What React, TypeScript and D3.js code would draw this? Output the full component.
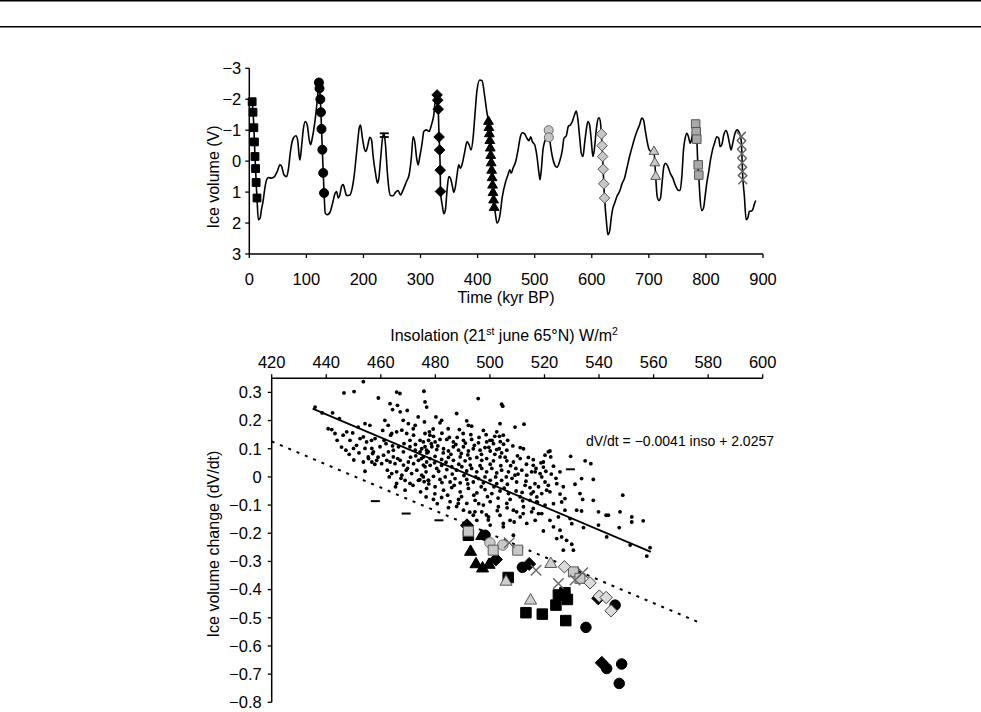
import React from 'react';
import * as d3 from 'd3';

type P = [number, number];

// ---------------- Top panel: ice volume record (time kyr BP, V) ----------------
const iceRecord: P[] = [
  [3, -1.95], [5, -1.92], [6.5, -1.58], [8, -1.08], [9, -0.62], [10, -0.15], [11, 0.24], [12, 0.69], [13.5, 1.19],
  [15.8, 1.89], [19, 1.84], [21, 1.6], [24.5, 1.25], [27, 0.9], [30.4, 0.6], [33.3, 0.53], [39, 0.55], [43, 0.52],
  [49, 0.33], [53.7, 0.12], [56.6, 0.17], [60.7, 0.44], [65.4, 0.5], [68.3, 0.28], [72.4, -0.36], [77, -0.74],
  [81.7, -0.82], [84.6, -0.69], [87.5, -0.15], [88.7, -0.04], [91.6, -0.47], [94.5, -1.01], [98, -1.28],
  [101.5, -1.17], [105, -0.69], [107.4, -0.53], [110.3, -0.74], [113.8, -1.12], [116.7, -1.55], [119.6, -2.08],
  [122, -2.54], [123, -2.35], [124.5, -2.0], [125.5, -1.58], [126.5, -1.04], [128, -0.37], [129.5, 0.38], [131, 1.03],
  [133, 1.68], [136.5, 1.73], [141.2, 1.66], [145.9, 1.36], [150, 1.05], [152.9, 0.98], [155.8, 1.19], [158.7, 1.09],
  [161.6, 0.82], [164.5, 0.76], [167.4, 0.93], [170.4, 1.11], [176.2, 1.09], [180.3, 0.87], [183.2, 0.55],
  [186.7, -0.04], [190.2, -0.69], [192.5, -1.06], [194.9, -1.17], [197.8, -0.79], [201.3, -0.42], [204.2, -0.31],
  [207.1, -0.47], [211.2, -0.77], [214.1, -0.69], [217, -0.15], [221.1, 0.39], [224.6, 0.71], [227, 0.55],
  [230.4, -0.15], [233.4, -0.74], [235.7, -0.9], [238.6, -0.53], [241.5, 0.28], [244.4, 0.87], [247.4, 1.11],
  [252, 1.12], [256.1, 1.01], [260.8, 0.95], [264.8, 1.09], [269.5, 0.93], [275.3, 0.66], [280, 0.44],
  [284.1, -0.15], [287, -0.79], [289.9, -0.63], [292.8, -0.15], [295.8, 0.12], [298.7, -0.15], [302.8, -0.58],
  [305.7, -0.96], [310.4, -1.01], [315, -0.96], [319.1, -1.17], [323.2, -1.49], [326.7, -2.08], [329, -2.14],
  [330, -1.97], [331, -1.68], [332.5, -0.78], [333.5, -0.36], [334.5, 0.29], [335, 0.98], [338.4, 1.46],
  [340.7, 1.7], [343.6, 1.57], [346.5, 0.93], [349.5, 0.5], [352.4, 0.55], [355.3, 0.76], [358.2, 1.01],
  [361.1, 0.82], [364, 0.44], [366.9, 0.12], [369.9, 0.23], [373.3, 0.07], [377.5, -0.31], [381.5, -0.63],
  [385, -0.53], [388.5, -0.36], [392, -0.74], [395.5, -1.55], [399, -2.3], [403.7, -2.62], [407.8, -2.6],
  [412.4, -2.1], [416.5, -1.55], [419, -1.28], [424, 0.06], [429, 1.5], [430.5, 1.62], [434, 2.0], [438.7, 1.79],
  [443.4, 1.14], [449.2, 0.66], [453.3, 0.44], [456.2, 0.28], [459.1, 0.39], [462, 0.23], [466.7, 0.01],
  [470.8, -0.36], [474.9, -0.79], [478.4, -0.92], [482.5, -0.88], [486.5, -0.74], [490, -0.66], [493, -0.79],
  [495.9, -0.63], [500, -0.53], [504, -0.15], [507.5, 0.39], [509.3, 0.6], [511.6, 0.28], [514.5, -0.36],
  [517.5, -0.63], [520.4, -0.74], [523.3, -0.96], [526.2, -0.74], [528, -0.47], [530.9, -0.15], [535, 0.12],
  [539, 0.2], [543.7, 0.01], [548.4, -0.36], [551.3, -0.74], [555.4, -0.82], [558.9, -1.12], [562.4, -1.17],
  [565.9, -1.28], [568.8, -1.44], [572.9, -1.62], [575.8, -1.33], [578.7, -0.79], [581.6, -0.26], [584.5, -0.15],
  [587.5, -0.58], [590.4, -1.01], [593.3, -1.28], [596.2, -1.17], [599.1, -0.69], [602, -0.15], [604.4, -0.36],
  [607.9, -1.01], [611.4, -1.39], [613.7, -1.39], [616.6, -0.96], [618, -0.5], [619, -0.15], [620, 0.26],
  [621, 0.73], [622.4, 1.19], [625.4, 1.89], [628.3, 2.38], [631.2, 2.27], [634.1, 1.84], [637, 1.52], [640, 1.36],
  [644, 1.14], [648.7, 0.98], [653.4, 0.71], [657.4, 0.55], [661.5, 0.23], [666.2, -0.15], [670.9, -0.47],
  [675, -0.74], [679, -0.96], [683.7, -1.17], [687.8, -1.39], [690.7, -1.33], [693.6, -1.01], [697.1, -0.63],
  [700, -0.4], [703, -0.32], [709, -0.31], [710.5, 0.06], [712, 0.5], [714.6, 1.14], [717.5, 1.27], [720.4, 1.19],
  [723.4, 0.66], [726.3, 0.17], [729.2, 0.07], [733.3, 0.17], [737.4, 0.39], [742, 0.55], [746.1, 0.76],
  [750.8, 0.93], [754.8, 0.95], [757.8, 0.5], [760.7, -0.36], [763.6, -0.74], [766.5, -0.9], [769.4, -0.79],
  [772.4, -0.58], [775.3, -0.74], [778.8, -1.17], [782, -1.2], [783, -0.95], [784, -0.71], [785.8, 0.07],
  [787.5, 0.5], [789.9, 1.25], [792.8, 1.59], [795.7, 1.52], [798.6, 1.14], [801.5, 0.71], [805, 0.33],
  [808, -0.04], [810.9, -0.31], [815, -0.58], [819, -0.79], [822.5, -0.74], [824.8, -0.47], [827.8, -0.53],
  [831.3, -0.85], [835.4, -0.99], [838.3, -0.85], [841.2, -0.58], [844.1, -0.36], [847, -0.58], [851, -0.9],
  [854.6, -1.01], [857.5, -0.96], [860.4, -0.8], [862, -0.63], [864.5, 0.5], [867.4, 1.14], [870.4, 1.89],
  [873.3, 1.84], [876.2, 1.62], [879.1, 1.62], [882, 1.57], [885, 1.38], [887.3, 1.27],
];

// Top panel marker series (time, V)
const topBlackSquares: P[] = [[5, -1.92], [6.5, -1.58], [8, -1.08], [9, -0.62], [10, -0.15], [11, 0.24], [12, 0.69], [13.5, 1.19]];
const topBlackCircles: P[] = [[122, -2.54], [123, -2.35], [124.5, -2.0], [125.5, -1.58], [126.5, -1.04], [128, -0.37], [129.5, 0.38], [131, 1.03]];
const topDashes: P[] = [[236.5, -0.9], [236.5, -0.78]];
const topBlackDiamonds: P[] = [[329, -2.14], [330, -1.97], [331, -1.68], [332.5, -0.78], [333.5, -0.36], [334.5, 0.29], [335, 0.98]];
const topBlackTriangles: P[] = [
  [419, -1.28], [419.8, -1.08], [420.6, -0.88], [421.4, -0.66], [422.2, -0.42], [423, -0.18], [423.8, 0.06],
  [424.6, 0.3], [425.4, 0.54], [426.2, 0.78], [427, 1.02], [428, 1.26], [429, 1.5],
];
const topGreyCircles: P[] = [[524.5, -1.0], [524.8, -0.77]];
const topGreyDiamonds: P[] = [[617, -0.88], [618, -0.5], [619, -0.15], [620, 0.26], [621, 0.73], [622.4, 1.19]];
const topGreyTriangles: P[] = [[709, -0.31], [710.5, 0.06], [712, 0.5]];
const topGreySquares: P[] = [[782, -1.2], [783, -0.95], [784, -0.71], [786.5, 0.12], [787.5, 0.45]];
const topGreyCrosses: P[] = [[862, -0.8], [862.5, -0.52], [863, -0.24], [863.5, 0.05], [864, 0.33], [864.5, 0.6]];

// ---------------- Bottom panel (insolation W/m2, dV/dt) ----------------
const scatterDots: P[] = [
  [435.9, 0.248], [438.5, 0.227], [442.3, 0.227], [444.8, 0.207], [446.5, 0.298], [450.2, 0.303], [453.6, 0.338],
  [459.1, 0.28], [440.7, 0.171], [442, 0.168], [443.2, 0.154], [444, 0.13], [446.2, 0.148], [447.5, 0.16],
  [449.7, 0.156], [451.7, 0.177], [454.2, 0.189], [456, 0.183], [445.6, 0.106], [447.2, 0.095], [448.4, 0.08],
  [451.1, 0.112], [453.6, 0.142], [454.8, 0.124], [456.6, 0.13], [457, 0.083], [455.4, 0.071], [461.5, 0.201],
  [463.4, 0.26], [464.3, 0.239], [465.8, 0.301], [467, 0.296], [460.7, 0.165], [462.7, 0.183], [463.6, 0.148],
  [461.9, 0.118], [464.6, 0.095], [468.2, 0.201], [469.7, 0.236], [471.9, 0.171], [473.7, 0.213], [475.8, 0.304],
  [476.8, 0.248], [478, 0.148], [480.2, 0.213], [482.3, 0.201], [484.7, 0.171], [487.8, 0.225], [490.2, 0.154],
  [492.1, 0.183], [495.7, 0.278], [497.6, 0.165], [500, 0.13],
  [450, 0.101], [454.2, 0.101], [456.7, 0.101], [457.3, 0.089], [459.7, 0.107], [461, 0.077], [462.8, 0.089],
  [464.6, 0.071], [466.5, 0.107], [468.3, 0.089], [470.7, 0.107], [472.6, 0.095], [474.4, 0.089], [476.2, 0.107],
  [477.4, 0.089], [453.6, 0.053], [455.5, 0.065], [456.7, 0.053], [458.5, 0.059], [460.3, 0.047], [462.2, 0.059],
  [463.4, 0.053], [465.2, 0.047], [467.1, 0.059], [468.3, 0.042], [470.1, 0.053], [472, 0.047], [473.8, 0.059],
  [475.6, 0.042], [476.8, 0.053], [462.4, 0.024], [464, 0.012], [465.8, 0.018], [467.7, 0.006], [469.3, 0.024],
  [471.3, 0.012], [473.2, 0.024], [475, 0.006], [476.6, 0.018], [465.8, -0.023], [468.9, -0.012], [470.7, -0.023],
  [473.8, -0.012], [475.9, -0.017], [477.4, -0.012], [468.9, -0.047], [474.6, -0.053], [476.6, -0.071],
  [466.1, 0.254], [467.1, 0.231], [470.1, 0.189], [472.6, 0.183], [464, 0.154], [465.8, 0.16], [467.7, 0.166],
  [469.5, 0.154], [472, 0.148], [474.4, 0.13], [476.2, 0.154], [470.7, 0.13], [476.2, 0.266], [452.4, 0.136],
  [457.9, 0.136], [448.7, 0.13],
  [504.3, 0.258], [504.7, 0.251], [491.5, 0.199], [493.3, 0.18], [503.7, 0.189], [509.2, 0.177], [512.5, 0.187],
  [477.8, 0.16], [479.3, 0.144], [488.8, 0.168], [502.5, 0.16], [503.5, 0.144], [481.7, 0.192],
  [475.6, 0.124], [477.5, 0.13], [479.9, 0.124], [481.7, 0.133], [484.2, 0.133], [486.6, 0.124], [490.3, 0.13],
  [493.3, 0.133], [495.8, 0.121], [498.8, 0.124], [501.3, 0.118], [505, 0.116], [511.1, 0.104], [512.3, 0.1],
  [521.4, 0.089], [475, 0.1], [476.8, 0.095], [478.7, 0.107], [480.5, 0.097], [483, 0.1], [484.8, 0.092],
  [486.6, 0.107], [488.5, 0.095], [490.3, 0.107], [492.1, 0.092], [493.9, 0.1], [496.4, 0.095], [498.2, 0.104],
  [500.1, 0.092], [502.5, 0.097], [504.3, 0.085], [506.2, 0.095], [475.6, 0.071], [478.1, 0.065], [479.9, 0.073],
  [482.3, 0.062], [484.8, 0.069], [486.6, 0.059], [489.1, 0.071], [490.9, 0.057], [492.7, 0.065], [495.2, 0.069],
  [497, 0.059], [498.8, 0.065], [501.3, 0.057], [503.7, 0.071], [506.2, 0.057], [508.6, 0.053], [511.1, 0.065],
  [514.1, 0.069], [515.9, 0.041], [519.6, 0.053], [476.2, 0.036], [478.1, 0.041], [480.5, 0.03], [482.3, 0.041],
  [484.2, 0.026], [486, 0.036], [487.8, 0.024], [489.7, 0.036], [491.5, 0.021], [493.3, 0.03], [495.2, 0.018],
  [497, 0.03], [498.8, 0.018], [500.7, 0.03], [502.5, 0.014], [504.3, 0.024], [506.8, 0.018], [509.2, 0.006],
  [511.7, 0.024], [513.5, 0.006], [516.6, 0.018], [519, 0], [475.6, 0.0], [477.5, -0.012], [479.3, 0.002],
  [481.7, -0.009], [483.6, 0.0], [485.4, -0.018], [487.2, -0.006], [489.1, -0.021], [491.5, -0.009], [493.9, -0.018],
  [495.8, -0.006], [497.6, -0.021], [500.1, -0.012], [502.5, -0.024], [504.3, -0.012], [506.4, -0.026],
  [509.8, -0.018], [512.9, -0.03], [514.7, -0.038], [517.8, -0.035], [520.8, -0.047], [476.8, -0.041],
  [479.9, -0.035], [483, -0.047], [486, -0.038], [489.1, -0.053], [492.1, -0.041], [495.2, -0.057], [498.2, -0.045],
  [500.7, -0.059], [503.7, -0.05], [506.8, -0.059], [511.1, -0.071], [514.7, -0.083], [517.2, -0.071],
  [479.3, -0.08], [482.3, -0.073], [485.4, -0.088], [488.5, -0.08], [491.5, -0.094], [494.6, -0.083], [497.6, -0.1],
  [500.1, -0.088], [503.1, -0.106], [506.2, -0.094], [508.6, -0.118], [512.3, -0.106], [515.9, -0.112], [519, -0.13],
  [484.8, -0.109], [490.3, -0.118], [493.9, -0.136], [497, -0.124], [499.5, -0.142], [503.7, -0.136],
  [507.4, -0.154], [511.1, -0.142], [513.5, -0.165], [516.6, -0.154], [495.2, -0.154], [500.1, -0.171],
  [504.9, -0.177],
  [504.9, 0.148], [501.8, 0.144], [509.8, -0.124], [494.5, -0.124], [488.4, -0.094],
  [520.2, 0.077], [522.0, 0.092], [522.3, 0.071], [529.6, 0.073], [534.9, 0.057], [537, 0.047], [515.9, 0.061],
  [519.6, 0.035], [523.3, 0.038], [525.7, 0.018], [515.3, 0.018], [518.4, 0.012], [516.5, -0.024],
  [520.2, -0.018], [521.4, -0.03], [524.5, -0.024], [526.9, -0.035], [531.2, -0.026], [533.6, -0.006],
  [537.9, -0.009], [515.9, -0.053], [519, -0.059], [522, -0.053], [525.7, -0.061], [527.5, -0.077], [533, -0.059],
  [534, -0.08], [537.9, -0.083], [548.7, -0.065], [517.1, -0.089], [520.2, -0.1], [523.3, -0.095], [526.3, -0.089],
  [527.5, -0.118], [531.8, -0.118], [533.6, -0.121], [539.8, -0.124], [542.6, -0.136], [543.4, -0.136],
  [547.7, -0.124], [515.3, -0.124], [517.8, -0.13], [522, -0.154], [525.1, -0.142], [529.4, -0.148], [530, -0.166],
  [534.3, -0.18], [539.8, -0.171], [547.4, -0.18], [552, -0.142], [552, -0.16], [556.2, -0.156], [519.6, -0.192],
  [523.3, -0.177], [525.7, -0.189], [526.3, -0.213], [524.5, -0.219], [528.1, -0.225], [530, -0.239],
  [530.6, -0.26], [526.9, -0.26], [542.8, -0.213], [551.4, -0.242], [558.7, -0.251], [557.5, -0.281],
  [504.9, -0.165], [499.4, -0.153], [508.6, -0.207], [512.2, -0.13],
  [478.5, 0.118], [480.9, 0.11], [482.9, 0.085], [485.7, 0.08], [487.5, 0.115], [489.5, 0.083], [491.9, 0.078],
  [494.3, 0.112], [496.9, 0.08], [499.6, 0.105], [501.8, 0.08], [503.4, 0.1], [505.6, 0.07], [507.6, 0.04],
  [509.5, 0.03], [476.9, 0.085], [479.7, 0.05], [481.2, 0.02], [483.9, 0.052], [486.2, 0.01], [488.6, 0.045],
  [490.5, 0.005], [492.8, 0.042], [494.8, 0.0], [496.4, 0.04], [498.2, 0.0], [500.1, 0.045], [502.1, 0.0],
  [504.0, 0.04], [506.0, 0.0], [508.1, -0.005], [510.3, 0.01], [477.6, -0.025], [479.8, -0.06], [482.4, -0.02],
  [484.5, -0.065], [486.9, -0.03], [489.6, -0.07], [491.9, -0.025], [494.1, -0.065], [496.8, -0.035],
  [499.1, -0.07], [501.5, -0.035], [503.0, -0.075], [505.2, -0.04], [507.4, -0.08], [509.6, -0.05],
  [511.8, -0.055], [513.2, -0.015], [515.1, -0.06], [517.4, -0.09], [480.7, -0.095], [487.8, -0.105],
  [492.6, -0.125], [495.9, -0.095], [498.7, -0.135], [502.7, -0.12], [506.3, -0.11], [508.9, -0.16], [512.0, -0.085],
  [468.5, 0.118], [470.9, 0.07], [472.7, 0.115], [474.9, 0.065], [466.2, 0.065], [469.8, 0.03], [472.8, 0.075],
  [464.3, 0.11], [461.2, 0.13], [459.0, 0.07], [457.8, 0.045], [454.2, 0.02], [452.0, 0.085], [450.1, 0.06],
  [467.4, -0.005], [471.8, -0.03], [474.3, -0.01], [463.1, 0.0], [465.4, -0.035], [476.0, 0.195], [479.2, 0.17],
  [482.4, 0.155], [485.1, 0.14], [488.0, 0.14], [491.0, 0.12], [493.0, 0.15], [496.0, 0.14], [498.6, 0.15],
  [500.8, 0.13], [503.8, 0.125], [506.5, 0.13], [508.4, 0.11], [510.1, 0.075], [513.4, 0.045], [516.9, 0.03],
  [518.7, 0.05], [520.5, 0.02], [522.5, 0.01], [524.2, -0.005],
];

const botBlackSquares: P[] = [[492.1, -0.207], [506.7, -0.357], [525.1, -0.419], [527.5, -0.411], [528.4, -0.435], [524.2, -0.455], [513.2, -0.482], [519.2, -0.487], [527.8, -0.51]];
const botBlackCircles: P[] = [[498.2, -0.207], [511.9, -0.321], [535.2, -0.534], [545.9, -0.455], [542.8, -0.68], [548.3, -0.664], [547.4, -0.733]];
const botBlackDiamonds: P[] = [[491.6, -0.172], [502.2, -0.293], [514.4, -0.309], [539.7, -0.431], [541.0, -0.66]];
const botBlackTriangles: P[] = [[492.9, -0.266], [494.9, -0.31], [497.3, -0.325], [499.7, -0.312], [497.0, -0.21]];
const botGreyCircles: P[] = [[500, -0.234], [504.7, -0.242]];
const botGreySquares: P[] = [[492.1, -0.193], [501.2, -0.26], [510.2, -0.26], [530.6, -0.337], [533.0, -0.36]];
const botGreyDiamonds: P[] = [[527.3, -0.319], [536.7, -0.376], [540.1, -0.423], [542.6, -0.428], [544.4, -0.475]];
const botGreyTriangles: P[] = [[505.9, -0.372], [514.9, -0.439], [522.3, -0.309]];
const botGreyCrosses: P[] = [[507.1, -0.234], [516.9, -0.331], [525.1, -0.378], [531.2, -0.366], [534.0, -0.34]];
const botDashes: P[] = [[458, -0.086], [469.3, -0.13], [481.3, -0.154], [529.5, 0.027]];

const regressionLine = { slope: -0.0041, intercept: 2.0257, from: 435, to: 559 };
const thresholdLine = { slope: -0.0041, intercept: 1.848, from: 420, to: 578 };

const topXTicks = [0, 100, 200, 300, 400, 500, 600, 700, 800, 900];
const topYTicks = [-3, -2, -1, 0, 1, 2, 3];
const botXTicks = [420, 440, 460, 480, 500, 520, 540, 560, 580, 600];
const botYTicks = [0.3, 0.2, 0.1, 0, -0.1, -0.2, -0.3, -0.4, -0.5, -0.6, -0.7, -0.8];

const FONT = '"Liberation Sans", Arial, Helvetica, sans-serif';

const fmtNum = (v: number) => (v < 0 ? '\u2212' + String(Math.abs(v)) : String(v));

type Kind = 'square' | 'circle' | 'diamond' | 'triangle' | 'cross' | 'dash';

function shapePath(kind: Kind, s: number): string {
  const h = s / 2;
  switch (kind) {
    case 'square':
      return `M${-h},${-h}h${s}v${s}h${-s}Z`;
    case 'diamond': {
      const d = s * 0.62;
      return `M0,${-d}L${d},0L0,${d}L${-d},0Z`;
    }
    case 'triangle': {
      const a = s * 1.15;
      const th = a * 0.866;
      return `M0,${-th * 2 / 3}L${a / 2},${th / 3}L${-a / 2},${th / 3}Z`;
    }
    case 'cross':
      return `M${-h},${-h}L${h},${h}M${-h},${h}L${h},${-h}`;
    case 'dash':
      return `M${-h},0H${h}`;
    default:
      return '';
  }
}

interface SeriesStyle { kind: Kind; size: number; fill: string; stroke: string; sw: number; }

function Markers({ data, x, y, st }: { data: P[]; x: (v: number) => number; y: (v: number) => number; st: SeriesStyle }) {
  return (
    <g>
      {data.map((d, i) =>
        st.kind === 'circle' ? (
          <circle key={i} cx={x(d[0])} cy={y(d[1])} r={st.size / 2} fill={st.fill} stroke={st.stroke} strokeWidth={st.sw} />
        ) : (
          <path key={i} transform={`translate(${x(d[0])},${y(d[1])})`} d={shapePath(st.kind, st.size)}
            fill={st.kind === 'cross' || st.kind === 'dash' ? 'none' : st.fill} stroke={st.stroke} strokeWidth={st.sw} />
        )
      )}
    </g>
  );
}

export default function App() {
  const xT = d3.scaleLinear().domain([0, 900]).range([249.3, 763]);
  const yT = d3.scaleLinear().domain([-3, 3]).range([68.3, 254]);
  const xB = d3.scaleLinear().domain([420, 600]).range([271.7, 762.7]);
  const yB = d3.scaleLinear().domain([-0.8, 0.35]).range([702.3, 378.3]);

  const iceLine = d3.line<P>().x(d => xT(d[0])).y(d => yT(d[1])).curve(d3.curveMonotoneX);
  const lin = d3.line<P>().x(d => xB(d[0])).y(d => yB(d[1]));
  const regPts: P[] = [regressionLine.from, regressionLine.to].map(t => [t, regressionLine.slope * t + regressionLine.intercept] as P);
  const thrPts: P[] = [thresholdLine.from, thresholdLine.to].map(t => [t, thresholdLine.slope * t + thresholdLine.intercept] as P);

  const ts = 8.5; // top marker size
  const bs = 10.5; // bottom marker size
  const tickFs = 16.5;
  const mk = (kind: Kind, size: number, fill: string, stroke: string, sw = 1): SeriesStyle => ({ kind, size, fill, stroke, sw });

  return (
    <svg width={981} height={712} style={{ position: 'absolute', left: 0, top: 0, background: '#fff' }}
      fontFamily={FONT}>
      <rect x={0} y={0} width={981} height={712} fill="#fff" />
      {/* page rules */}
      <line x1={0} x2={981} y1={0.8} y2={0.8} stroke="#000" strokeWidth={1.6} />
      <line x1={0} x2={981} y1={26.8} y2={26.8} stroke="#000" strokeWidth={1.6} />

      {/* ---------- Top panel ---------- */}
      <g>
        <line x1={xT(0)} x2={xT(0)} y1={yT(-3)} y2={yT(3)} stroke="#000" strokeWidth={1.5} />
        <line x1={xT(0)} x2={xT(900)} y1={yT(3)} y2={yT(3)} stroke="#000" strokeWidth={1.5} />
        {topYTicks.map(t => (
          <g key={t}>
            <line x1={xT(0) - 4} x2={xT(0)} y1={yT(t)} y2={yT(t)} stroke="#000" strokeWidth={1.3} />
            <text x={xT(0) - 8} y={yT(t)} dy="0.35em" textAnchor="end" fontSize={tickFs}>{fmtNum(t)}</text>
          </g>
        ))}
        {topXTicks.map(t => (
          <g key={t}>
            <line x1={xT(t)} x2={xT(t)} y1={yT(3)} y2={yT(3) + 4} stroke="#000" strokeWidth={1.3} />
            <text x={xT(t)} y={279} dy="0.35em" textAnchor="middle" fontSize={tickFs}>{t}</text>
          </g>
        ))}
        <text x={506} y={297} dy="0.35em" textAnchor="middle" fontSize={16}>Time (kyr BP)</text>
        <text transform="translate(213,177) rotate(-90)" textAnchor="middle" dy="0.35em" fontSize={16}>Ice volume (V)</text>

        <path d={iceLine(iceRecord) || ''} fill="none" stroke="#000" strokeWidth={1.6} />

        <Markers data={topBlackSquares} x={xT} y={yT} st={mk('square', 7.8, '#000', '#000')} />
        <Markers data={topBlackCircles} x={xT} y={yT} st={mk('circle', ts + 0.5, '#000', '#000')} />
        <Markers data={topDashes} x={xT} y={yT} st={mk('dash', 9, 'none', '#000', 1.8)} />
        <Markers data={topBlackDiamonds} x={xT} y={yT} st={mk('diamond', ts, '#000', '#000')} />
        <Markers data={topBlackTriangles} x={xT} y={yT} st={mk('triangle', ts, '#000', '#000')} />
        <Markers data={topGreyCircles} x={xT} y={yT} st={mk('circle', ts + 0.5, '#c4c4c4', '#666')} />
        <Markers data={topGreyDiamonds} x={xT} y={yT} st={mk('diamond', ts, '#c8c8c8', '#555')} />
        <Markers data={topGreyTriangles} x={xT} y={yT} st={mk('triangle', ts, '#c8c8c8', '#555')} />
        <Markers data={topGreySquares} x={xT} y={yT} st={mk('square', ts, '#a8a8a8', '#555')} />
        <Markers data={topGreyCrosses} x={xT} y={yT} st={mk('cross', 9, 'none', '#666', 1.5)} />
      </g>

      {/* ---------- Bottom panel ---------- */}
      <g>
        <line x1={xB(420)} x2={xB(420)} y1={yB(0.35)} y2={yB(-0.8)} stroke="#000" strokeWidth={1.5} />
        <line x1={xB(420)} x2={xB(600)} y1={yB(0.35)} y2={yB(0.35)} stroke="#000" strokeWidth={1.5} />
        {botYTicks.map(t => (
          <g key={t}>
            <line x1={xB(420) - 4} x2={xB(420)} y1={yB(t)} y2={yB(t)} stroke="#000" strokeWidth={1.3} />
            <text x={xB(420) - 10} y={yB(t)} dy="0.35em" textAnchor="end" fontSize={tickFs}>{fmtNum(t)}</text>
          </g>
        ))}
        {botXTicks.map(t => (
          <g key={t}>
            <line x1={xB(t)} x2={xB(t)} y1={yB(0.35) - 4} y2={yB(0.35)} stroke="#000" strokeWidth={1.3} />
            <text x={xB(t)} y={362} dy="0.35em" textAnchor="middle" fontSize={tickFs}>{t}</text>
          </g>
        ))}
        <text x={504} y={341} textAnchor="middle" fontSize={16}>
          Insolation (21<tspan dy={-6} fontSize={10.5}>st</tspan><tspan dy={6}> june 65°N) W/m</tspan><tspan dy={-6} fontSize={10.5}>2</tspan>
        </text>
        <text transform="translate(213,544) rotate(-90)" textAnchor="middle" dy="0.35em" fontSize={16}>Ice volume change (dV/dt)</text>
        <text x={586} y={446} fontSize={14}>dV/dt = {'\u2212'}0.0041 inso + 2.0257</text>

        {scatterDots.map((d, i) => (
          <circle key={i} cx={xB(d[0])} cy={yB(d[1])} r={1.9} fill="#000" />
        ))}
        <path d={lin(regPts) || ''} stroke="#000" strokeWidth={1.8} fill="none" />
        <path d={lin(thrPts) || ''} stroke="#000" strokeWidth={2} strokeDasharray="3,6" fill="none" />

        <Markers data={botBlackSquares} x={xB} y={yB} st={mk('square', bs, '#000', '#000')} />
        <Markers data={botBlackCircles} x={xB} y={yB} st={mk('circle', bs, '#000', '#000')} />
        <Markers data={botBlackDiamonds} x={xB} y={yB} st={mk('diamond', bs, '#000', '#000')} />
        <Markers data={botBlackTriangles} x={xB} y={yB} st={mk('triangle', bs, '#000', '#000')} />
        <Markers data={botDashes} x={xB} y={yB} st={mk('dash', 9, 'none', '#000', 2)} />
        <Markers data={botGreyCircles} x={xB} y={yB} st={mk('circle', bs, '#c8c8c8', '#777')} />
        <Markers data={botGreySquares} x={xB} y={yB} st={mk('square', bs - 0.5, '#c8c8c8', '#555')} />
        <Markers data={botGreyDiamonds} x={xB} y={yB} st={mk('diamond', bs - 0.5, '#dcdcdc', '#444')} />
        <Markers data={botGreyTriangles} x={xB} y={yB} st={mk('triangle', bs, '#cfcfcf', '#555')} />
        <Markers data={botGreyCrosses} x={xB} y={yB} st={mk('cross', bs, 'none', '#666', 1.4)} />
      </g>
    </svg>
  );
}
